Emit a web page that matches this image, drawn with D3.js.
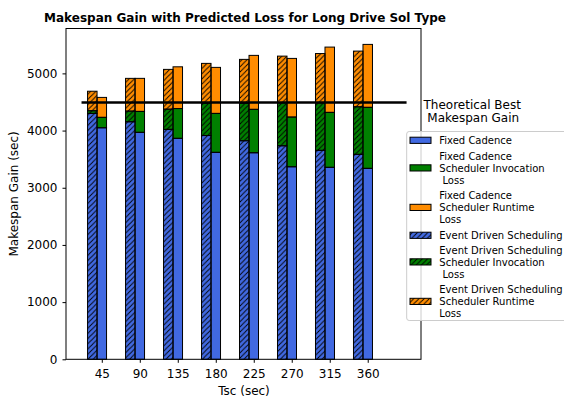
<!DOCTYPE html>
<html>
<head>
<meta charset="utf-8">
<script src="https://cdn.jsdelivr.net/npm/d3@7"></script>
<style>
  html, body { margin: 0; padding: 0; background: #fff; }
  svg { display: block; font-family: "DejaVu Sans", sans-serif; }
</style>
</head>
<body>
<svg id="chart" width="564" height="403"></svg>
<script>
// ---- Data ----
const tsc = [45, 90, 135, 180, 225, 270, 315, 360];
// Event Driven Scheduling (hatched)
const eventGain      = [4300, 4154, 4021, 3913, 3822, 3734, 3654, 3584];
const eventInvLoss   = [47, 186, 353, 563, 654, 752, 832, 832];
const eventRunLoss   = [341, 573, 696, 699, 769, 816, 861, 974];
// Fixed Cadence (solid)
const fixedGain      = [4049, 3969, 3864, 3619, 3612, 3367, 3357, 3339];
const fixedInvLoss   = [182, 366, 521, 681, 759, 869, 961, 1067];
const fixedRunLoss   = [349, 578, 730, 805, 944, 1026, 1142, 1101];
const theoreticalBest = 4490;
const yTicks = [0, 1000, 2000, 3000, 4000, 5000];
const lineExtent = [21, 406];

const colors = { gain: "#4169E1", inv: "#008000", run: "#FF8C00" };
const legendItems = [
  { lines: ["Fixed Cadence"], color: colors.gain, hatch: false },
  { lines: ["Fixed Cadence", "Scheduler Invocation", " Loss"], color: colors.inv, hatch: false },
  { lines: ["Fixed Cadence", "Scheduler Runtime", "Loss"], color: colors.run, hatch: false },
  { lines: ["Event Driven Scheduling"], color: colors.gain, hatch: true },
  { lines: ["Event Driven Scheduling", "Scheduler Invocation", " Loss"], color: colors.inv, hatch: true },
  { lines: ["Event Driven Scheduling", "Scheduler Runtime", "Loss"], color: colors.run, hatch: true }
];

// ---- Layout ----
const L = 66, R = 421, T = 28.5, B = 359.3;
const svg = d3.select("#chart");
const x = d3.scaleLinear().domain([2.6, 423.1]).range([L, R]);
const y = d3.scaleLinear().domain([0, 5785]).range([B, T]);
const barW = 11.25; // data units

// hatch pattern
const defs = svg.append("defs");
const hs = 5.2;
const pat = defs.append("pattern").attr("id", "hatch")
  .attr("patternUnits", "userSpaceOnUse").attr("width", hs).attr("height", hs);
pat.append("path")
  .attr("d", `M0,${hs} L${hs},0 M${-hs/2},${hs/2} L${hs/2},${-hs/2} M${hs/2},${hs*1.5} L${hs*1.5},${hs/2}`)
  .attr("stroke", "#000").attr("stroke-width", 0.9).attr("fill", "none");

// stacks
function buildStacks(base, inv, run, offset, hatch) {
  return tsc.map((t, i) => {
    const segs = [
      { y0: 0, y1: base[i], c: colors.gain },
      { y0: base[i], y1: base[i] + inv[i], c: colors.inv },
      { y0: base[i] + inv[i], y1: base[i] + inv[i] + run[i], c: colors.run }
    ];
    return segs.map(s => Object.assign({ t, offset, hatch }, s));
  }).flat();
}
const segs = buildStacks(eventGain, eventInvLoss, eventRunLoss, -1.5, true)
  .concat(buildStacks(fixedGain, fixedInvLoss, fixedRunLoss, -0.5, false));

const bx = d => x(d.t + d.offset * barW);
const bw = d => x(d.t + (d.offset + 1) * barW) - x(d.t + d.offset * barW);
const barsG = svg.append("g");
barsG.selectAll("rect.bar").data(segs).join("rect")
  .attr("class", "bar")
  .attr("x", bx).attr("width", bw)
  .attr("y", d => y(d.y1))
  .attr("height", d => y(d.y0) - y(d.y1))
  .attr("fill", d => d.c);
barsG.selectAll("rect.hatch").data(segs.filter(d => d.hatch)).join("rect")
  .attr("class", "hatch")
  .attr("x", bx).attr("width", bw)
  .attr("y", d => y(d.y1))
  .attr("height", d => y(d.y0) - y(d.y1))
  .attr("fill", "url(#hatch)");
barsG.selectAll("rect.edge").data(segs).join("rect")
  .attr("class", "edge")
  .attr("x", bx).attr("width", bw)
  .attr("y", d => y(d.y1))
  .attr("height", d => y(d.y0) - y(d.y1))
  .attr("fill", "none").attr("stroke", "#000").attr("stroke-width", 1);

// theoretical best line
svg.append("line")
  .attr("x1", x(lineExtent[0])).attr("x2", x(lineExtent[1]))
  .attr("y1", y(theoreticalBest)).attr("y2", y(theoreticalBest))
  .attr("stroke", "#000").attr("stroke-width", 2.6);

// axes
const xAxis = d3.axisBottom(x).tickValues(tsc).tickFormat(d3.format("d")).tickSize(3.5).tickPadding(6.5).tickSizeOuter(0);
const gx = svg.append("g").attr("transform", `translate(0,${B})`).call(xAxis);
const yAxis = d3.axisLeft(y).tickValues(yTicks).tickFormat(d3.format("d")).tickSize(3.5).tickPadding(5).tickSizeOuter(0);
const gy = svg.append("g").attr("transform", `translate(${L},0)`).call(yAxis);
[gx, gy].forEach(g => {
  g.select(".domain").remove();
  g.selectAll("text").attr("font-size", 12).attr("fill", "#000").attr("font-family", "DejaVu Sans");
  g.selectAll("line").attr("stroke", "#000");
});

// frame
svg.append("rect").attr("x", L).attr("y", T).attr("width", R - L).attr("height", B - T)
  .attr("fill", "none").attr("stroke", "#000").attr("stroke-width", 1);

// title & labels
svg.append("text").attr("x", 245).attr("y", 21.5).attr("text-anchor", "middle")
  .attr("font-size", 12).attr("font-weight", "bold")
  .text("Makespan Gain with Predicted Loss for Long Drive Sol Type");
svg.append("text").attr("x", 244).attr("y", 395).attr("text-anchor", "middle")
  .attr("font-size", 12).text("Tsc (sec)");
svg.append("text").attr("transform", `translate(17.5,${(T + B) / 2}) rotate(-90)`)
  .attr("text-anchor", "middle").attr("font-size", 12).text("Makespan Gain (sec)");

// theoretical annotation
const ann = svg.append("text").attr("font-size", 12).attr("xml:space", "preserve").style("white-space", "pre");
ann.append("tspan").attr("x", 423.5).attr("y", 108.5).text("Theoretical Best");
ann.append("tspan").attr("x", 423.5).attr("y", 122).text(" Makespan Gain");

// legend
const lg = svg.append("g");
lg.append("rect").attr("x", 406.7).attr("y", 131.5).attr("width", 170).attr("height", 189)
  .attr("rx", 2.5).attr("fill", "#fff").attr("fill-opacity", 0.8)
  .attr("stroke", "#cccccc").attr("stroke-width", 1);
const lineH = 12.1;
const firstLineY = [144, 159.5, 199, 239, 253.5, 293];
legendItems.forEach((it, i) => {
  const top = firstLineY[i];
  const n = it.lines.length;
  const midY = top - 4 + (n - 1) * lineH / 2;
  const py = midY - 2.8, ph = 6.2;
  lg.append("rect").attr("x", 410).attr("y", py).attr("width", 21).attr("height", ph).attr("fill", it.color);
  if (it.hatch) lg.append("rect").attr("x", 410).attr("y", py).attr("width", 21).attr("height", ph).attr("fill", "url(#hatch)");
  lg.append("rect").attr("x", 410).attr("y", py).attr("width", 21).attr("height", ph)
    .attr("fill", "none").attr("stroke", "#000").attr("stroke-width", 1);
  const t = lg.append("text").attr("font-size", 10).attr("xml:space", "preserve").style("white-space", "pre");
  it.lines.forEach((ln, j) => {
    t.append("tspan").attr("x", 439.3).attr("y", top + j * lineH).text(ln);
  });
});
</script>
</body>
</html>
